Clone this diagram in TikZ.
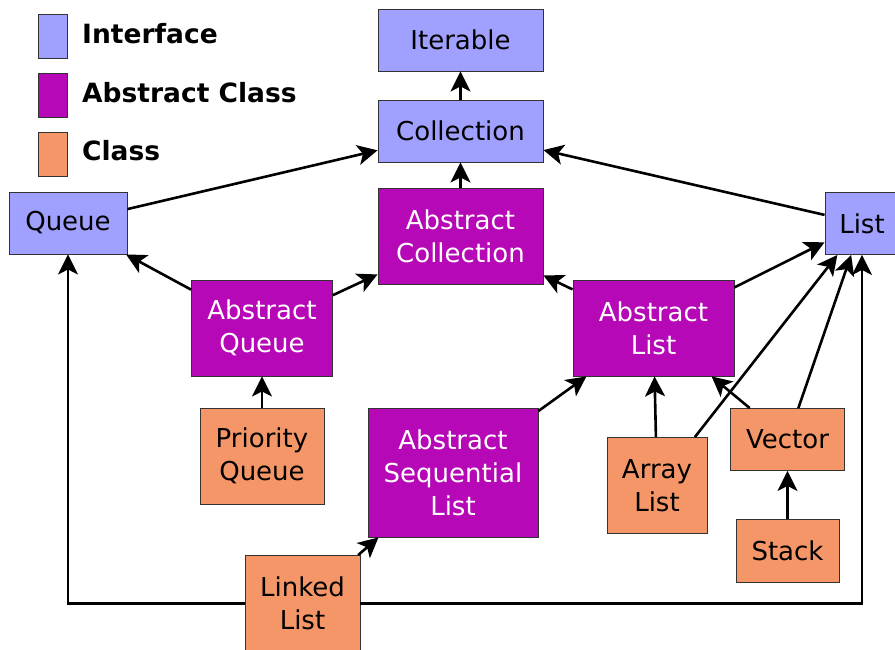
\documentclass[tikz,border=0pt]{standalone}
\usepackage{fontspec}
\setmainfont{DejaVu Sans}
\usetikzlibrary{arrows.meta}
\definecolor{ifc}{RGB}{160,160,255}
\definecolor{abc}{RGB}{182,8,182}
\definecolor{clc}{RGB}{245,150,104}
\definecolor{bord}{RGB}{51,51,51}
\begin{document}
\begin{tikzpicture}[x=1pt,y=-1pt,
  box/.style={draw=bord,line width=0.9pt,inner sep=0pt,align=center,font=\fontsize{26}{33}\selectfont},
  iface/.style={box,fill=ifc,text=black},
  abst/.style={box,fill=abc,text=white},
  clsbox/.style={box,fill=clc,text=black},
  legbox/.style={draw=bord,line width=0.9pt,inner sep=0pt,minimum width=29pt,minimum height=44pt},
  conn/.style={line width=2.6pt,-{Stealth[length=20pt,width=20pt,inset=5pt]}},
  leg/.style={anchor=base west,inner sep=0pt,font=\fontsize{26.5}{33}\selectfont\bfseries}
]
\useasboundingbox (0,0) rectangle (895,649);
\clip (0,0) rectangle (895,649);
% legend
\node[legbox,fill=ifc] (lg1) at (52.5,36) {};
\node[legbox,fill=abc] (lg2) at (52.5,95) {};
\node[legbox,fill=clc] (lg3) at (52.5,154) {};
\node[leg] (lt1) at (82,43.5) {Interface};
\node[leg] (lt2) at (82,102) {Abstract Class};
\node[leg] (lt3) at (82,160) {Class};
% nodes
\node[iface,minimum width=165pt,minimum height=62pt] (iter) at (460.5,40) {Iterable};
\node[iface,minimum width=165pt,minimum height=62pt] (coll) at (460.5,131) {Collection};
\node[abst,minimum width=165pt,minimum height=96pt] (acoll) at (460.5,236) {Abstract\\Collection};
\node[iface,minimum width=118pt,minimum height=62pt] (queue) at (68,223) {Queue};
\node[iface,minimum width=74pt,minimum height=62pt] (list) at (862,223.5) {List};
\node[abst,minimum width=141pt,minimum height=96pt] (aq) at (262,328) {Abstract\\Queue};
\node[abst,minimum width=161pt,minimum height=96pt] (al) at (653.5,328) {Abstract\\List};
\node[clsbox,minimum width=124pt,minimum height=96pt] (pq) at (262,456) {Priority\\Queue};
\node[abst,minimum width=170pt,minimum height=129pt] (asl) at (453,472.5) {Abstract\\Sequential\\List};
\node[clsbox,minimum width=115pt,minimum height=96pt] (ll) at (302.5,603.5) {Linked\\List};
\node[clsbox,minimum width=100pt,minimum height=96pt] (arr) at (657,485.5) {Array\\List};
\node[clsbox,minimum width=114pt,minimum height=62pt] (vec) at (787.5,439.5) {Vector};
\node[clsbox,minimum width=103pt,minimum height=63pt] (stack) at (787.5,551) {Stack};
% connectors
\draw[conn] (coll) -- (iter);
\draw[conn] (acoll) -- (coll);
\draw[conn] (queue) -- (coll);
\draw[conn] (list) -- (coll);
\draw[conn] (aq) -- (queue);
\draw[conn] (aq) -- (acoll);
\draw[conn] (al) -- (acoll);
\draw[conn] (al) -- (list);
\draw[conn] (pq) -- (aq);
\draw[conn] (asl) -- (al);
\draw[conn] (arr) -- (al);
\draw[conn] (vec) -- (al);
\draw[conn] (arr) -- (list);
\draw[conn] (vec) -- (list);
\draw[conn] (stack) -- (vec);
\draw[conn] (ll) -- (asl);
\draw[conn] (ll.west) -| (queue.south);
\draw[conn] (ll.east) -| (list.south);
\end{tikzpicture}
\end{document}
